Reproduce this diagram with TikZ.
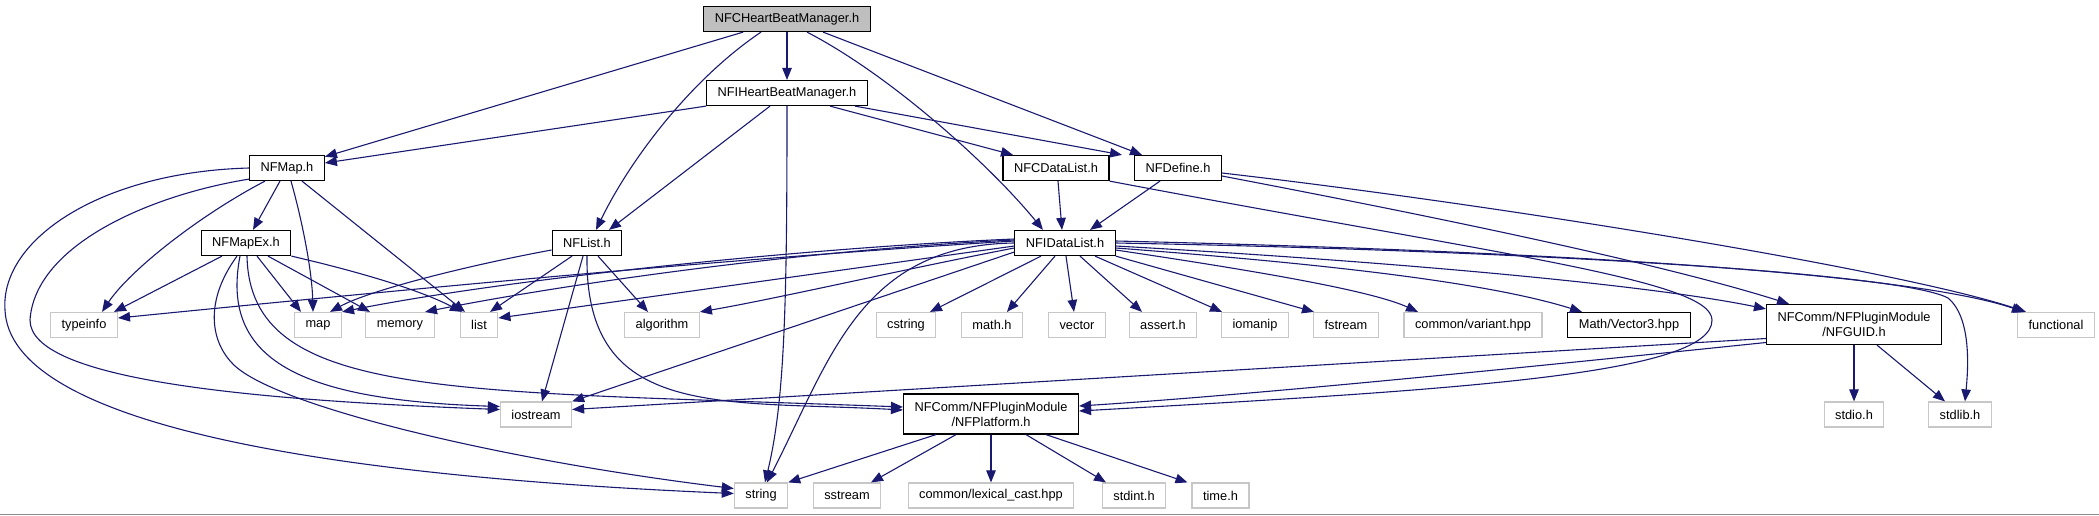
\documentclass[tikz,border=0pt]{standalone}
\usepackage{fontspec}
\setmainfont{Liberation Sans}
\usetikzlibrary{arrows.meta}
\definecolor{edgeblue}{HTML}{191970}

\begin{document}
\begin{tikzpicture}[
    x=1pt, y=-1pt,
    hdr/.style={rectangle, font=\fontsize{12.8}{15}\selectfont, inner xsep=11pt,
      inner ysep=0pt, minimum height=25pt, line width=1.2pt},
    filebox/.style={hdr, draw=black},
    sysbox/.style={hdr, draw=black!22},
    twoline/.style={align=center, minimum height=40pt},
    dep/.style={draw=edgeblue, line width=1.1pt, -{Triangle[length=12pt,width=9.5pt]}}
  ]
  \useasboundingbox (0,0) rectangle (2099,515);

  % the file and its interface
  \node[filebox, fill=black!25] (root) at (787,19) {NFCHeartBeatManager.h};
  \node[filebox] (ihb) at (787,93) {NFIHeartBeatManager.h};

  % project headers
  \node[filebox] (nfmap) at (287,168) {NFMap.h};
  \node[filebox] (cdatalist) at (1056,168) {NFCDataList.h};
  \node[filebox] (nfdefine) at (1178,168) {NFDefine.h};
  \node[filebox] (mapex) at (246,243) {NFMapEx.h};
  \node[filebox] (nflist) at (587,243) {NFList.h};
  \node[filebox] (idatalist) at (1065,243) {NFIDataList.h};

  % row of leaves
  \node[sysbox] (typeinfo) at (84,325) {typeinfo};
  \node[sysbox] (stdmap) at (318,325) {map};
  \node[sysbox] (memory) at (400,325) {memory};
  \node[sysbox] (stdlist) at (479,325) {list};
  \node[sysbox] (algorithm) at (662,325) {algorithm};
  \node[sysbox] (cstring) at (906,325) {cstring};
  \node[sysbox] (mathh) at (992,325) {math.h};
  \node[sysbox] (vector) at (1077,325) {vector};
  \node[sysbox] (asserth) at (1163,325) {assert.h};
  \node[sysbox] (iomanip) at (1255,325) {iomanip};
  \node[sysbox] (fstream) at (1346,325) {fstream};
  \node[sysbox] (variant) at (1473,325) {common/variant.hpp};
  \node[filebox] (vector3) at (1629,325) {Math/Vector3.hpp};
  \node[filebox, twoline] (guid) at (1854,324.5) {NFComm/NFPluginModule\\/NFGUID.h};
  \node[sysbox] (functional) at (2056,325) {functional};

  % lower rows
  \node[sysbox] (iostream) at (536,414.5) {iostream};
  \node[filebox, twoline] (platform) at (991,414) {NFComm/NFPluginModule\\/NFPlatform.h};
  \node[sysbox] (stdioh) at (1854,414.5) {stdio.h};
  \node[sysbox] (stdlibh) at (1960,414.5) {stdlib.h};
  \node[sysbox] (stdstring) at (761,495.5) {string};
  \node[sysbox] (sstream) at (847,495.5) {sstream};
  \node[sysbox] (lexcast) at (991,495.5) {common/lexical\_cast.hpp};
  \node[sysbox] (stdint) at (1134,495.5) {stdint.h};
  \node[sysbox] (timeh) at (1220.5,495.5) {time.h};

  % from NFCHeartBeatManager.h
  \draw[dep] (root) -- (nfmap);
  \draw[dep] (root) -- (ihb);
  \draw[dep] ([xshift=-26pt]root.south) .. controls (690,80) and (630,160) .. ([xshift=9pt]nflist.north);
  \draw[dep] ([xshift=20pt]root.south) .. controls (890,75) and (990,165) .. ([xshift=-22pt]idatalist.north);
  \draw[dep] ([xshift=36pt]root.south) -- ([xshift=-36pt]nfdefine.north);

  % from NFIHeartBeatManager.h
  \draw[dep] (ihb.south west) -- ([yshift=5pt]nfmap.east);
  \draw[dep] ([xshift=-17pt]ihb.south) -- ([xshift=22pt]nflist.north);
  \draw[dep] (ihb.south) .. controls (787,300) and (785,400) .. ([xshift=4pt]stdstring.north);
  \draw[dep] ([xshift=43pt]ihb.south) -- ([xshift=-43pt]cdatalist.north);
  \draw[dep] ([xshift=68pt]ihb.south) -- ([xshift=-56pt]nfdefine.north);

  % from NFMap.h
  \draw[dep] ([xshift=-7pt]nfmap.south) -- ([xshift=7pt]mapex.north);
  \draw[dep] ([xshift=4pt]nfmap.south) .. controls (302,220) and (312,270) .. ([xshift=-5pt]stdmap.north);
  \draw[dep] ([xshift=15pt]nfmap.south) -- ([xshift=-14pt]stdlist.north);
  \draw[dep] ([xshift=-22pt]nfmap.south) .. controls (200,215) and (130,270) .. ([xshift=18pt]typeinfo.north);
  \draw[dep] (nfmap.west) .. controls (100,172) and (0,240) .. (5,310)
    .. controls (10,420) and (300,475) .. ([yshift=2pt]stdstring.west);
  \draw[dep] ([yshift=2pt]nfmap.south west) .. controls (150,195) and (35,245) .. (30,320)
    .. controls (30,380) and (250,400) .. ([yshift=5pt]iostream.west);

  % from NFMapEx.h
  \draw[dep] ([xshift=-24pt]mapex.south) -- ([xshift=30pt]typeinfo.north);
  \draw[dep] ([xshift=11pt]mapex.south) -- ([xshift=-17pt]stdmap.north);
  \draw[dep] ([xshift=22pt]mapex.south) -- ([xshift=-30pt]memory.north);
  \draw[dep] (mapex.south east) .. controls (360,272) and (420,290) .. ([xshift=-17pt]stdlist.north);
  \draw[dep] ([xshift=-9pt]mapex.south) .. controls (205,300) and (210,340) .. (232,363)
    .. controls (270,405) and (500,460) .. ([yshift=7pt]stdstring.west);
  \draw[dep] ([xshift=-6pt]mapex.south) .. controls (220,360) and (300,400) .. ([yshift=8pt]iostream.west);
  \draw[dep] ([xshift=1pt]mapex.south) .. controls (250,400) and (450,390) .. ([yshift=7pt]platform.west);

  % from NFList.h
  \draw[dep] ([yshift=-7pt]nflist.west) .. controls (470,265) and (370,290) .. ([xshift=12pt]stdmap.north);
  \draw[dep] ([xshift=-15pt]nflist.south) -- ([xshift=11pt]stdlist.north);
  \draw[dep] ([xshift=11pt]nflist.south) -- ([xshift=-14pt]algorithm.north);
  \draw[dep] ([xshift=-4pt]nflist.south) -- ([xshift=6pt]iostream.north);
  \draw[dep] (nflist.south) .. controls (585,420) and (720,400) .. ([yshift=4pt]platform.west);

  % from NFCDataList.h
  \draw[dep] ([xshift=2pt]cdatalist.south) -- ([xshift=-3pt]idatalist.north);
  \draw[dep] (cdatalist.south east) .. controls (1500,255) and (1712,280) .. (1712,320)
    .. controls (1713,375) and (1450,390) .. ([yshift=3pt]platform.east);

  % from NFDefine.h
  \draw[dep] ([xshift=-18pt]nfdefine.south) -- ([xshift=25pt]idatalist.north);
  \draw[dep] ([yshift=-5pt]nfdefine.east) .. controls (1500,205) and (1900,270) .. ([xshift=-30pt]functional.north);
  \draw[dep] ([yshift=-8pt]nfdefine.east) .. controls (1400,210) and (1650,260) .. ([xshift=-65pt]guid.north);

  % from NFIDataList.h, downwards
  \draw[dep] ([xshift=-24pt]idatalist.south) -- ([xshift=24pt]cstring.north);
  \draw[dep] ([xshift=-10pt]idatalist.south) -- ([xshift=15pt]mathh.north);
  \draw[dep] ([xshift=1pt]idatalist.south) -- ([xshift=-3pt]vector.north);
  \draw[dep] ([xshift=15pt]idatalist.south) -- ([xshift=-21pt]asserth.north);
  \draw[dep] ([xshift=30pt]idatalist.south) -- ([xshift=-33pt]iomanip.north);
  \draw[dep] (idatalist.south east) -- ([xshift=-32pt]fstream.north);

  % from NFIDataList.h, to the right
  \draw[dep] ([yshift=-7pt]idatalist.east) .. controls (1250,270) and (1370,290) .. ([xshift=-55pt]variant.north);
  \draw[dep] ([yshift=-5pt]idatalist.east) .. controls (1300,262) and (1480,280) .. ([xshift=-47pt]vector3.north);
  \draw[dep] ([yshift=-3pt]idatalist.east) .. controls (1400,262) and (1650,285) .. ([yshift=-5pt]guid.north west);
  \draw[dep] (idatalist.east) .. controls (1500,250) and (1900,272) .. (1948,298)
    .. controls (1972,318) and (1968,370) .. ([xshift=5pt]stdlibh.north);
  \draw[dep] ([yshift=2pt]idatalist.east) .. controls (1500,250) and (1900,270) .. ([xshift=-32pt]functional.north);

  % from NFIDataList.h, to the left
  \draw[dep] ([yshift=2pt]idatalist.west) .. controls (700,260) and (300,300) .. ([yshift=7pt]typeinfo.east);
  \draw[dep] ([yshift=4pt]idatalist.west) .. controls (800,248) and (500,280) .. (stdmap.north east);
  \draw[dep] ([yshift=3pt]idatalist.west) .. controls (800,250) and (560,285) .. ([xshift=25pt]memory.north);
  \draw[dep] ([yshift=-3pt]idatalist.west) -- ([yshift=7pt]stdlist.east);
  \draw[dep] ([yshift=-5pt]idatalist.west) .. controls (900,270) and (780,298) .. (algorithm.north east);
  \draw[dep] ([yshift=-9pt]idatalist.west) -- (iostream.north east);
  \draw[dep] (idatalist.west) .. controls (860,245) and (830,360) .. ([xshift=6pt]stdstring.north);

  % from NFPlatform.h
  \draw[dep] ([xshift=-55pt]platform.south) -- (stdstring.north east);
  \draw[dep] ([xshift=-35pt]platform.south) -- ([xshift=24pt]sstream.north);
  \draw[dep] (platform) -- (lexcast);
  \draw[dep] ([xshift=35pt]platform.south) -- ([xshift=-28pt]stdint.north);
  \draw[dep] ([xshift=55pt]platform.south) -- ([xshift=-33pt]timeh.north);

  % from NFGUID.h
  \draw[dep] (guid) -- (stdioh);
  \draw[dep] ([xshift=23pt]guid.south) -- ([xshift=-15pt]stdlibh.north);
  \draw[dep] ([yshift=-14pt]guid.west) -- ([yshift=5pt]iostream.east);
  \draw[dep] ([yshift=-18pt]guid.west) .. controls (1500,370) and (1250,395) .. ([yshift=8pt]platform.east);

  % frame edge at the bottom
  \draw[black!45, line width=1pt] (0,514) -- (2099,514);
\end{tikzpicture}
\end{document}
